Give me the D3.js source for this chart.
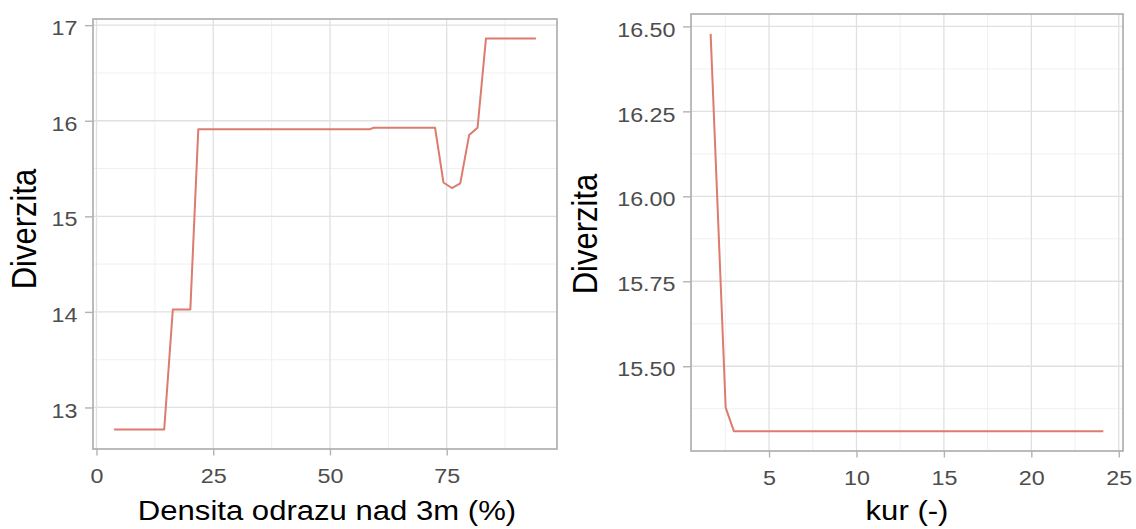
<!DOCTYPE html>
<html>
<head>
<meta charset="utf-8">
<script src="https://cdn.jsdelivr.net/npm/d3@7"></script>
<style>
  html, body { margin: 0; padding: 0; background: #fff; }
  svg { display: block; font-family: "Liberation Sans", Arial, sans-serif; }
</style>
</head>
<body>
<svg id="chart" width="1136" height="529"></svg>
<script>
// ---- data ----
const densX = [3.77, 14.5, 16.35, 20.1, 21.8, 58.4, 59.4, 72.5, 74.3, 76.1, 77.9, 79.8, 81.6, 83.4, 94.1];
const densY = [12.77, 12.77, 14.025, 14.025, 15.91, 15.91, 15.927, 15.927, 15.354, 15.296, 15.344, 15.85, 15.927, 16.86, 16.86];
const kurX = [1.66, 2.52, 2.99, 24.12];
const kurY = [16.478, 15.378, 15.309, 15.309];

const densXTicks = [0, 25, 50, 75];
const densYTicks = [13, 14, 15, 16, 17];
const kurXTicks = [5, 10, 15, 20, 25];
const kurYTicks = [15.5, 15.75, 16.0, 16.25, 16.5];

const xTitleLeft = "Densita odrazu nad 3m (%)";
const xTitleRight = "kur (-)";
const yTitle = "Diverzita";

// ---- drawing ----
const SX = 1.11; // horizontal stretch of the reference
const svg = d3.select("#chart");

function expand(arr) {
  const [a, b] = d3.extent(arr);
  const r = b - a;
  return [a - 0.05 * r, b + 0.05 * r];
}

function panel(opts) {
  const { x0, x1, y0, y1, xs, ys, xTicks, yTicks, xMinor, yMinor, yFmt, xTitle, yTitleX, yTitleY, xTitleX } = opts;
  const x = d3.scaleLinear().domain(expand(xs)).range([x0, x1]);
  const y = d3.scaleLinear().domain(expand(ys)).range([y1, y0]);
  const g = svg.append("g");

  // minor grid
  g.selectAll(".vminor").data(xMinor.filter(v => x(v) > x0 && x(v) < x1)).join("line")
    .attr("x1", d => x(d)).attr("x2", d => x(d)).attr("y1", y0).attr("y2", y1)
    .attr("stroke", "#eeeeee").attr("stroke-width", 0.9);
  g.selectAll(".hminor").data(yMinor.filter(v => y(v) > y0 && y(v) < y1)).join("line")
    .attr("y1", d => y(d)).attr("y2", d => y(d)).attr("x1", x0).attr("x2", x1)
    .attr("stroke", "#eeeeee").attr("stroke-width", 0.9);
  // major grid
  g.selectAll(".vmajor").data(xTicks).join("line")
    .attr("x1", d => x(d)).attr("x2", d => x(d)).attr("y1", y0).attr("y2", y1)
    .attr("stroke", "#e0e0e0").attr("stroke-width", 1.3);
  g.selectAll(".hmajor").data(yTicks).join("line")
    .attr("y1", d => y(d)).attr("y2", d => y(d)).attr("x1", x0).attr("x2", x1)
    .attr("stroke", "#e0e0e0").attr("stroke-width", 1.3);

  // line
  const pts = xs.map((v, i) => [v, ys[i]]);
  g.append("path").datum(pts)
    .attr("d", d3.line().x(d => x(d[0])).y(d => y(d[1])))
    .attr("fill", "none").attr("stroke", "#dc7b6e").attr("stroke-width", 2)
    .attr("stroke-linejoin", "round");

  // border
  g.append("rect").attr("x", x0).attr("y", y0).attr("width", x1 - x0).attr("height", y1 - y0)
    .attr("fill", "none").attr("stroke", "#ababab").attr("stroke-width", 1.6);

  // x axis
  const xa = g.append("g").attr("transform", `translate(0,${y1})`)
    .call(d3.axisBottom(x).tickValues(xTicks).tickSize(6.5).tickPadding(13).tickFormat(d3.format("d")));
  xa.select(".domain").remove();
  xa.selectAll("line").attr("stroke", "#b3b3b3").attr("stroke-width", 1.4);
  xa.selectAll("text").attr("fill", "#4d4d4d").attr("font-size", 21)
    .attr("font-family", "Liberation Sans, Arial, sans-serif")
    .attr("transform", `scale(${SX},1)`);

  // y axis
  const ya = g.append("g").attr("transform", `translate(${x0},0)`)
    .call(d3.axisLeft(y).tickValues(yTicks).tickSize(8).tickPadding(7).tickFormat(yFmt));
  ya.select(".domain").remove();
  ya.selectAll("line").attr("stroke", "#b3b3b3").attr("stroke-width", 1.4);
  ya.selectAll("text").attr("fill", "#4d4d4d").attr("font-size", 21)
    .attr("font-family", "Liberation Sans, Arial, sans-serif")
    .attr("dy", "0.46em")
    .attr("x", -15.5 / SX)
    .attr("transform", `scale(${SX},1)`);

  // titles
  g.append("text").text(xTitle)
    .attr("transform", `translate(${xTitleX},520) scale(${SX},1)`)
    .attr("text-anchor", "middle").attr("font-size", 28).attr("fill", "#000");
  g.append("text").text(yTitle)
    .attr("transform", `translate(${yTitleX},${yTitleY}) scale(${SX},1) rotate(-90)`)
    .attr("text-anchor", "middle").attr("font-size", 31).attr("fill", "#000");
}

panel({
  x0: 93, x1: 557, y0: 19, y1: 449,
  xs: densX, ys: densY,
  xTicks: densXTicks, yTicks: densYTicks,
  xMinor: [12.5, 37.5, 62.5, 87.5], yMinor: [12.5, 13.5, 14.5, 15.5, 16.5],
  yFmt: d3.format("d"),
  xTitle: xTitleLeft, xTitleX: 327,
  yTitleX: 36, yTitleY: 229
});

panel({
  x0: 691, x1: 1123, y0: 14, y1: 451,
  xs: kurX, ys: kurY,
  xTicks: kurXTicks, yTicks: kurYTicks,
  xMinor: [2.5, 7.5, 12.5, 17.5, 22.5], yMinor: [15.375, 15.625, 15.875, 16.125, 16.375],
  yFmt: d3.format(".2f"),
  xTitle: xTitleRight, xTitleX: 907,
  yTitleX: 597, yTitleY: 234
});
</script>
</body>
</html>
